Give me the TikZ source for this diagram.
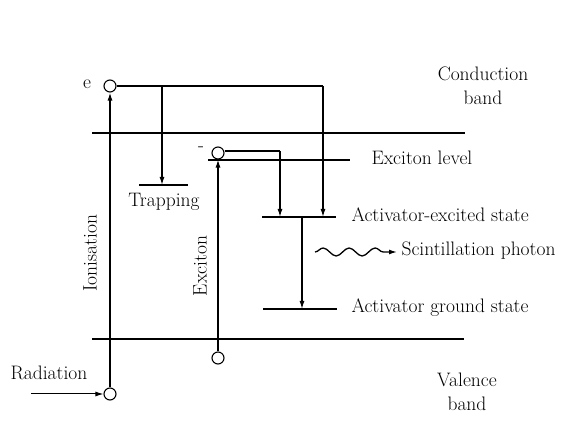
\documentclass[tikz,border=0pt]{standalone}
\usepackage{tikz}
\usetikzlibrary{arrows.meta,decorations.pathmorphing}
\begin{document}
\begin{tikzpicture}[x=1pt, y=-1pt, every node/.style={font=\fontsize{19.5}{24}\selectfont}, >={Latex[length=8pt, width=5pt]}, lv/.style={line width=1.3pt}, el/.style={draw, circle, line width=1.1pt, minimum size=12pt, inner sep=0pt, fill=white}]
	\useasboundingbox (0,0) rectangle (573,427);
	% band edges and levels
	\draw[lv] (92,133) -- (465,133);
	\draw[lv] (92,339) -- (464,339);
	\draw[lv] (208,160) -- (350,160);
	\draw[lv] (139,185) -- (188,185);
	\draw[lv] (262,217) -- (336,217);
	\draw[lv] (263,309) -- (337,309);
	% points on the levels
	\coordinate (tr) at (162,185);
	\coordinate (ax1) at (280,217);
	\coordinate (ax2) at (323,217);
	\coordinate (ax0) at (302,217);
	\coordinate (ag) at (302,309);
	\coordinate (c1) at (162,86);
	\coordinate (c2) at (323,86);
	\coordinate (x1) at (280,151);
	\coordinate (rad) at (31,394);
	% electrons and holes
	\node[el] (eT) at (110,86) {};
	\node[el] (eB) at (110,394) {};
	\node[el] (xT) at (218,153) {};
	\node[el] (xB) at (218,358) {};
	\draw[->, lv] (eB) -- (eT);
	\draw[->, lv] (xB) -- (xT);
	\draw[lv] (eT) -- (c2);
	\draw[->, lv] (c2) -- (ax2);
	\draw[->, lv] (c1) -- (tr);
	\draw[lv] (xT.east |- x1) -- (x1);
	\draw[->, lv] (x1) -- (ax1);
	\draw[->, lv] (ax0) -- (ag);
	\draw[->, line width=1pt] (rad) -- (eB);
	\coordinate (w1) at (315,252);
	\coordinate (w2) at (397,252);
	\draw[->, lv, decorate, decoration={snake, amplitude=4pt, segment length=26pt, post length=7pt}] (w1) -- (w2);
	% labels
	\node (le) at (87,84) {e};
	\node (lm) at (201,149) {-};
	\node (ltr) at (164,202) {Trapping};
	\node[align=center] (lcb) at (483,86) {Conduction\\band};
	\node[align=center] (lvb) at (467,392) {Valence\\band};
	\node[anchor=west] (lxl) at (368,158) {Exciton level};
	\node[anchor=west] (lae) at (348,215) {Activator-excited state};
	\node[anchor=west] (lsp) at (398,251) {Scintillation photon};
	\node[anchor=west] (lag) at (348,308) {Activator ground state};
	\node[rotate=90] (lion) at (90,253) {Ionisation};
	\node[rotate=90] (lex) at (200,266) {Exciton};
	\node (lrad) at (49,373) {Radiation};
\end{tikzpicture}
\end{document}
